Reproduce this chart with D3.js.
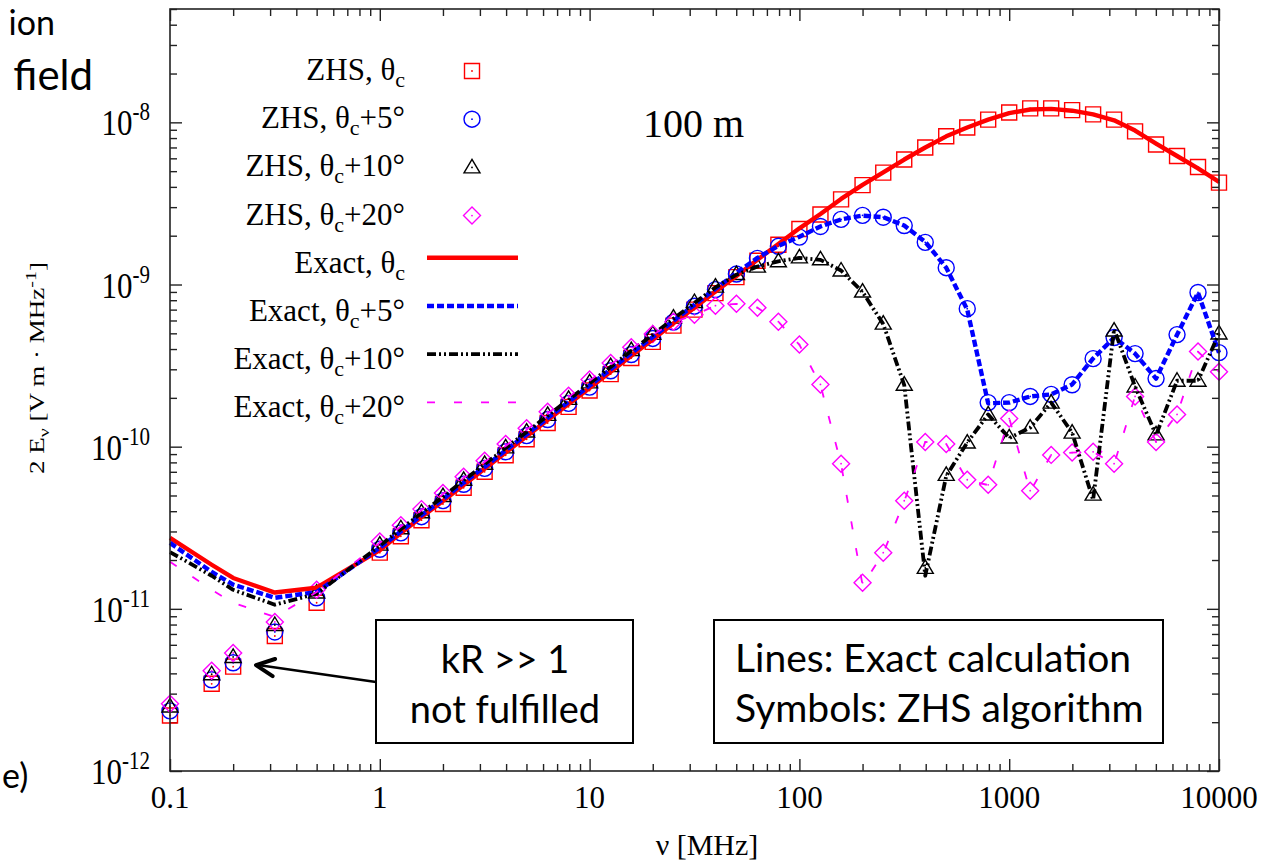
<!DOCTYPE html>
<html>
<head>
<meta charset="utf-8">
<script src="https://cdn.jsdelivr.net/npm/d3@7"></script>
<style>
body { margin: 0; background: #fff; }
svg { display: block; }
</style>
</head>
<body>
<svg width="1274" height="860"></svg>
<script>
// frequencies in MHz
var freq = [0.1, 0.158, 0.2, 0.316, 0.5,
  1, 1.26, 1.58, 2, 2.51, 3.16, 3.98, 5.01, 6.31, 7.94,
  10, 12.6, 15.8, 20, 25.1, 31.6, 39.8, 50.1, 63.1, 79.4,
  100, 126, 158, 200, 251, 316, 398, 501, 631, 794,
  1000, 1259, 1585, 1995, 2512, 3162, 3981, 5012, 6310, 7943,
  10000]

// ZHS symbols
var zhsC = [2.2e-12, 3.45e-12, 4.4e-12, 6.8e-12, 1.09e-11,
  2.22e-11, 2.8e-11, 3.52e-11, 4.43e-11, 5.58e-11, 7.0e-11, 8.85e-11, 1.11e-10, 1.4e-10, 1.76e-10,
  2.22e-10, 2.8e-10, 3.52e-10, 4.43e-10, 5.58e-10, 7.0e-10, 8.85e-10, 1.11e-9, 1.4e-9, 1.76e-9,
  2.2e-9, 2.7e-9, 3.35e-9, 4.1e-9, 4.9e-9, 5.9e-9, 7.0e-9, 8.2e-9, 9.3e-9, 1.04e-8,
  1.15e-8, 1.22e-8, 1.22e-8, 1.19e-8, 1.12e-8, 1.04e-8, 8.8e-9, 7.3e-9, 6.2e-9, 5.3e-9,
  4.25e-9]
var zhs5 = [2.35e-12, 3.65e-12, 4.65e-12, 7.2e-12, 1.17e-11,
  2.33e-11, 2.94e-11, 3.7e-11, 4.65e-11, 5.86e-11, 7.35e-11, 9.3e-11, 1.17e-10, 1.47e-10, 1.85e-10,
  2.33e-10, 2.94e-10, 3.7e-10, 4.65e-10, 5.86e-10, 7.35e-10, 9.3e-10, 1.16e-9, 1.45e-9, 1.72e-9,
  1.96e-9, 2.28e-9, 2.52e-9, 2.67e-9, 2.6e-9, 2.31e-9, 1.82e-9, 1.27e-9, 7.1e-10, 1.87e-10,
  1.87e-10, 2.04e-10, 2.1e-10, 2.41e-10, 3.49e-10, 4.71e-10, 3.75e-10, 2.63e-10, 4.91e-10, 8.93e-10,
  3.8e-10]
var zhs10 = [2.5e-12, 3.95e-12, 5.05e-12, 7.95e-12, 1.26e-11,
  2.49e-11, 3.14e-11, 3.94e-11, 4.96e-11, 6.25e-11, 7.84e-11, 9.9e-11, 1.24e-10, 1.57e-10, 1.97e-10,
  2.49e-10, 3.14e-10, 3.94e-10, 4.96e-10, 6.25e-10, 7.8e-10, 9.7e-10, 1.16e-9, 1.29e-9, 1.39e-9,
  1.47e-9, 1.43e-9, 1.22e-9, 9.05e-10, 5.74e-10, 2.41e-10, 1.79e-11, 6.7e-11, 1.06e-10, 1.58e-10,
  1.14e-10, 1.31e-10, 1.87e-10, 1.22e-10, 5.06e-11, 5.2e-10, 2.35e-10, 1.19e-10, 2.55e-10, 2.55e-10,
  4.99e-10]
var zhs20 = [2.6e-12, 4.15e-12, 5.35e-12, 8.3e-12, 1.31e-11,
  2.6e-11, 3.28e-11, 4.12e-11, 5.18e-11, 6.53e-11, 8.2e-11, 1.04e-10, 1.3e-10, 1.64e-10, 2.06e-10,
  2.6e-10, 3.28e-10, 4.1e-10, 4.95e-10, 5.9e-10, 6.5e-10, 7.4e-10, 7.6e-10, 7.2e-10, 5.9e-10,
  4.27e-10, 2.42e-10, 7.85e-11, 1.45e-11, 2.22e-11, 4.64e-11, 1.07e-10, 1.04e-10, 6.25e-11, 5.82e-11,
  1.49e-10, 5.35e-11, 8.9e-11, 9.2e-11, 9.3e-11, 7.85e-11, 2.04e-10, 1.07e-10, 1.58e-10, 3.86e-10,
  2.9e-10]

// exact calculation lines
var exactC = [2.74e-11, 1.87e-11, 1.55e-11, 1.26e-11, 1.35e-11,
  2.3e-11, 2.93e-11, 3.68e-11, 4.62e-11, 5.8e-11, 7.3e-11, 9.2e-11, 1.16e-10, 1.46e-10, 1.83e-10,
  2.3e-10, 2.9e-10, 3.64e-10, 4.58e-10, 5.76e-10, 7.2e-10, 9.05e-10, 1.13e-9, 1.42e-9, 1.78e-9,
  2.22e-9, 2.72e-9, 3.37e-9, 4.12e-9, 4.92e-9, 5.9e-9, 7.0e-9, 8.2e-9, 9.3e-9, 1.04e-8,
  1.14e-8, 1.2e-8, 1.21e-8, 1.18e-8, 1.12e-8, 1.03e-8, 8.9e-9, 7.4e-9, 6.2e-9, 5.2e-9,
  4.3e-9]
var exact5 = [2.55e-11, 1.69e-11, 1.41e-11, 1.17e-11, 1.27e-11,
  2.38e-11, 3.0e-11, 3.78e-11, 4.75e-11, 6.0e-11, 7.5e-11, 9.5e-11, 1.19e-10, 1.5e-10, 1.89e-10,
  2.38e-10, 3.0e-10, 3.77e-10, 4.74e-10, 5.97e-10, 7.5e-10, 9.4e-10, 1.18e-9, 1.46e-9, 1.73e-9,
  1.97e-9, 2.28e-9, 2.52e-9, 2.66e-9, 2.6e-9, 2.31e-9, 1.83e-9, 1.27e-9, 7.0e-10, 1.85e-10,
  1.87e-10, 2.04e-10, 2.1e-10, 2.42e-10, 3.5e-10, 4.7e-10, 3.75e-10, 2.63e-10, 4.9e-10, 8.9e-10,
  3.8e-10]
var exact10 = [2.24e-11, 1.6e-11, 1.31e-11, 1.06e-11, 1.24e-11,
  2.45e-11, 3.1e-11, 3.9e-11, 4.9e-11, 6.2e-11, 7.8e-11, 9.8e-11, 1.23e-10, 1.55e-10, 1.95e-10,
  2.46e-10, 3.1e-10, 3.9e-10, 4.9e-10, 6.15e-10, 7.7e-10, 9.6e-10, 1.15e-9, 1.29e-9, 1.39e-9,
  1.46e-9, 1.42e-9, 1.22e-9, 9.0e-10, 5.7e-10, 2.4e-10, 1.6e-11, 6.6e-11, 1.06e-10, 1.58e-10,
  1.13e-10, 1.31e-10, 1.87e-10, 1.22e-10, 4.7e-11, 5.3e-10, 2.35e-10, 1.18e-10, 2.55e-10, 2.55e-10,
  5.0e-10]
var exact20 = [1.95e-11, 1.31e-11, 1.09e-11, 8.9e-12, 1.27e-11,
  2.55e-11, 3.22e-11, 4.05e-11, 5.1e-11, 6.4e-11, 8.05e-11, 1.01e-10, 1.27e-10, 1.6e-10, 2.02e-10,
  2.55e-10, 3.2e-10, 4.0e-10, 4.9e-10, 5.85e-10, 6.5e-10, 7.4e-10, 7.6e-10, 7.2e-10, 5.9e-10,
  4.25e-10, 2.4e-10, 7.8e-11, 1.4e-11, 2.2e-11, 4.6e-11, 1.07e-10, 1.04e-10, 6.2e-11, 5.8e-11,
  1.5e-10, 5.3e-11, 8.9e-11, 9.2e-11, 9.3e-11, 7.8e-11, 2.05e-10, 1.07e-10, 1.58e-10, 3.85e-10,
  2.9e-10]

// ticks
var xMajor = [0.1, 1, 10, 100, 1000, 10000]
var xMajorLabels = ["0.1", "1", "10", "100", "1000", "10000"]
var yMajor = [1e-12, 1e-11, 1e-10, 1e-9, 1e-8]
var yExponents = ["-12", "-11", "-10", "-9", "-8"]

// legend
var zhsLabels = ["", "+5°", "+10°", "+20°"]
var colors = ["#ff0000", "#0000ff", "#000000", "#ff00ff"]

var serif = "'Liberation Serif', 'Times New Roman', serif"
var sans = "Lato, 'Open Sans', sans-serif"

var svg = d3.select('svg')
var x = d3.scaleLog().domain([0.1, 10000]).range([170, 1219])
var y = d3.scaleLog().domain([1e-12, 5e-8]).range([771, 9])

// slide text around the chart
svg.append('text').attr('x', 55).attr('y', 35).attr('text-anchor', 'end')
  .attr('font-family', sans).attr('font-size', 34).text('ion')
svg.append('text').attr('x', 93).attr('y', 90).attr('text-anchor', 'end')
  .attr('font-family', sans).attr('font-size', 42).text('field')
svg.append('text').attr('x', 2).attr('y', 788)
  .attr('font-family', sans).attr('font-size', 34).text('e)')

// ticks on all four sides, pointing inward
var minorX = x.ticks().filter(function(d) { return xMajor.indexOf(d) < 0 })
var minorY = y.ticks().filter(function(d) { return yMajor.indexOf(d) < 0 })

function tickAxis(axis, values, size, tr) {
  var g = svg.append('g').attr('transform', tr)
    .call(axis.tickValues(values).tickSize(size).tickFormat(''))
  g.select('.domain').remove()
  g.selectAll('line').attr('stroke', '#222').attr('stroke-width', 1.4)
}
tickAxis(d3.axisBottom(x), xMajor, -12, 'translate(0,771)')
tickAxis(d3.axisBottom(x), minorX, -7, 'translate(0,771)')
tickAxis(d3.axisTop(x), xMajor, -12, 'translate(0,9)')
tickAxis(d3.axisTop(x), minorX, -7, 'translate(0,9)')
tickAxis(d3.axisLeft(y), yMajor, -12, 'translate(170,0)')
tickAxis(d3.axisLeft(y), minorY, -7, 'translate(170,0)')
tickAxis(d3.axisRight(y), yMajor, -12, 'translate(1219,0)')
tickAxis(d3.axisRight(y), minorY, -7, 'translate(1219,0)')

// tick labels
svg.append('g').selectAll('text')
  .data(xMajor)
  .enter().append('text')
  .attr('x', function(d) { return x(d) })
  .attr('y', 808)
  .attr('text-anchor', 'middle')
  .attr('font-family', serif).attr('font-size', 31)
  .text(function(d, i) { return xMajorLabels[i] })

var yLab = svg.append('g').selectAll('text')
  .data(yMajor)
  .enter().append('text')
  .attr('transform', function(d) { return 'translate(150,' + (y(d) + 13) + ') scale(1,1.15)' })
  .attr('text-anchor', 'end')
  .attr('font-family', serif).attr('font-size', 31)
yLab.append('tspan').text('10')
yLab.append('tspan').attr('dy', -13).attr('font-size', 21)
  .text(function(d, i) { return yExponents[i] })

// axis titles
svg.append('text').attr('x', 707).attr('y', 855).attr('text-anchor', 'middle')
  .attr('font-family', serif).attr('font-size', 30).text('ν [MHz]')

var yt = svg.append('text')
  .attr('transform', 'translate(44,368) rotate(-90) scale(1,0.75)')
  .attr('text-anchor', 'middle')
  .attr('font-family', serif).attr('font-size', 27)
yt.append('tspan').text('2 E')
yt.append('tspan').attr('dy', 7).attr('font-size', 20).text('ν')
yt.append('tspan').attr('dy', -7).text(' [V m · MHz')
yt.append('tspan').attr('dy', -11).attr('font-size', 20).text('-1')
yt.append('tspan').attr('dy', 11).text(']')

// symbol shapes
var shapes = [
  'M-7.5,-7.5h15v15h-15Z',
  'M8,0A8,8 0 1,1 -8,0A8,8 0 1,1 8,0Z',
  'M0,-8L8,5.5L-8,5.5Z',
  'M0,-8.5L8.5,0L0,8.5L-8.5,0Z'
]

var zhsSeries = [zhsC, zhs5, zhs10, zhs20]
var exactSeries = [exactC, exact5, exact10, exact20]

function pts(vals) {
  return vals.map(function(v, i) { return [freq[i], v] })
}

zhsSeries.forEach(function(vals, s) {
  var g = svg.append('g')
    .selectAll('g')
    .data(pts(vals))
    .enter().append('g')
    .attr('transform', function(d) { return 'translate(' + x(d[0]) + ',' + y(d[1]) + ')' })
  g.append('path').attr('d', shapes[s])
    .attr('fill', 'none').attr('stroke', colors[s]).attr('stroke-width', 1.4)
  g.append('circle').attr('r', 0.9).attr('fill', colors[s])
})

var lineStyles = [
  { w: 4.4, dash: null },
  { w: 4.4, dash: '7,3' },
  { w: 3.8, dash: '9,3,2,3,2,3' },
  { w: 1.8, dash: '8,19' }
]

var line = d3.line()
  .x(function(d) { return x(d[0]) })
  .y(function(d) { return y(d[1]) })

exactSeries.forEach(function(vals, s) {
  svg.append('path')
    .datum(pts(vals))
    .attr('d', line)
    .attr('fill', 'none')
    .attr('stroke', colors[s])
    .attr('stroke-width', lineStyles[s].w)
    .attr('stroke-dasharray', lineStyles[s].dash)
    .attr('stroke-linejoin', 'round')
})

// frame
svg.append('rect').attr('x', 170).attr('y', 9).attr('width', 1049).attr('height', 762)
  .attr('fill', 'none').attr('stroke', '#222').attr('stroke-width', 1.6)

// legend
var legY = 71, legStep = 48.2
function legendText(row, name, suffix) {
  var t = svg.append('text').attr('x', 405).attr('y', legY + row * legStep + 9)
    .attr('text-anchor', 'end').attr('font-family', serif).attr('font-size', 31)
  t.append('tspan').text(name + ', θ')
  t.append('tspan').attr('dy', 7).attr('font-size', 22).text('c')
  if (suffix) t.append('tspan').attr('dy', -7).text(suffix)
}
zhsLabels.forEach(function(lab, s) {
  legendText(s, 'ZHS', lab)
  var g = svg.append('g').attr('transform', 'translate(472,' + (legY + s * legStep) + ')')
  g.append('path').attr('d', shapes[s])
    .attr('fill', 'none').attr('stroke', colors[s]).attr('stroke-width', 1.4)
  g.append('circle').attr('r', 0.9).attr('fill', colors[s])
})
zhsLabels.forEach(function(lab, s) {
  var row = s + 4
  legendText(row, 'Exact', lab)
  svg.append('line')
    .attr('x1', 427).attr('x2', 518)
    .attr('y1', legY + row * legStep - 6).attr('y2', legY + row * legStep - 6)
    .attr('stroke', colors[s])
    .attr('stroke-width', lineStyles[s].w)
    .attr('stroke-dasharray', lineStyles[s].dash)
})

// distance label
svg.append('text').attr('x', 643).attr('y', 137)
  .attr('font-family', serif).attr('font-size', 40).text('100 m')

// annotation boxes
svg.append('rect').attr('x', 376).attr('y', 620).attr('width', 257).attr('height', 123)
  .attr('fill', '#fff').attr('stroke', '#000').attr('stroke-width', 2)
svg.append('text').attr('x', 505).attr('y', 673).attr('text-anchor', 'middle')
  .attr('font-family', sans).attr('font-size', 38).text('kR >> 1')
svg.append('text').attr('x', 505).attr('y', 723).attr('text-anchor', 'middle')
  .attr('font-family', sans).attr('font-size', 38).text('not fulfilled')

svg.append('rect').attr('x', 714).attr('y', 620).attr('width', 449).attr('height', 123)
  .attr('fill', '#fff').attr('stroke', '#000').attr('stroke-width', 2)
svg.append('text').attr('x', 735).attr('y', 672)
  .attr('font-family', sans).attr('font-size', 39).text('Lines: Exact calculation')
svg.append('text').attr('x', 735).attr('y', 722)
  .attr('font-family', sans).attr('font-size', 39).text('Symbols: ZHS algorithm')

// arrow pointing at the low-frequency ZHS points
var tipX = x(0.257), tipY = y(4.5e-12)
svg.append('line').attr('x1', 376).attr('y1', 682).attr('x2', tipX + 2).attr('y2', tipY)
  .attr('stroke', '#000').attr('stroke-width', 2.5)
var ang = Math.atan2(682 - tipY, 376 - tipX)
var headLen = 20
svg.append('path')
  .attr('d', 'M' + (tipX + headLen * Math.cos(ang - 0.45)) + ',' + (tipY + headLen * Math.sin(ang - 0.45)) +
    'L' + tipX + ',' + tipY +
    'L' + (tipX + headLen * Math.cos(ang + 0.45)) + ',' + (tipY + headLen * Math.sin(ang + 0.45)))
  .attr('fill', 'none').attr('stroke', '#000').attr('stroke-width', 4)
  .attr('stroke-linecap', 'round').attr('stroke-linejoin', 'round')
</script>
</body>
</html>
